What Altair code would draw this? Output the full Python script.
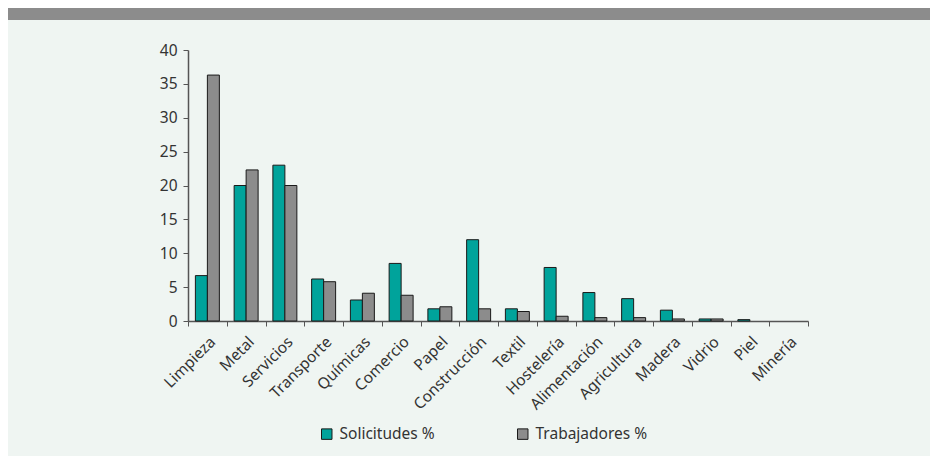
import altair as alt
import pandas as pd

categories = ["Limpieza", "Metal", "Servicios", "Transporte", "Químicas", "Comercio",
              "Papel", "Construcción", "Textil", "Hostelería", "Alimentación",
              "Agricultura", "Madera", "Vidrio", "Piel", "Minería"]
solicitudes = [6.7, 20.0, 23.0, 6.2, 3.1, 8.5, 1.8, 12.0, 1.8, 7.9, 4.2, 3.3, 1.6, 0.3, 0.2, 0.0]
trabajadores = [36.3, 22.3, 20.0, 5.8, 4.1, 3.8, 2.1, 1.8, 1.4, 0.7, 0.5, 0.5, 0.3, 0.3, 0.0, 0.0]
series = ["Solicitudes %", "Trabajadores %"]
colors = ["#00A39B", "#8C8C8C"]

rows = []
for c, s, t in zip(categories, solicitudes, trabajadores):
    rows.append({"cat": c, "serie": series[0], "v": s})
    rows.append({"cat": c, "serie": series[1], "v": t})
df = pd.DataFrame(rows)

FONT = "Noto Sans"

bars = alt.Chart(df).transform_filter("datum.v > 0").mark_bar(stroke="#1a1a1a", strokeWidth=1).encode(
    x=alt.X("cat:N", sort=categories, title=None,
            scale=alt.Scale(domain=categories, paddingInner=0, paddingOuter=0),
            axis=alt.Axis(labelAngle=-45, labelFont=FONT, labelFontSize=15.5,
                          labelColor="#333333", domainColor="#555555", domainWidth=1.5,
                          tickColor="#555555", tickSize=5, tickBand="extent",
                          labelPadding=8)),
    xOffset=alt.XOffset("serie:N", sort=series,
                        scale=alt.Scale(domain=series, paddingInner=0, paddingOuter=0.615)),
    y=alt.Y("v:Q", title=None,
            scale=alt.Scale(domain=[0, 40], nice=False),
            axis=alt.Axis(values=[0, 5, 10, 15, 20, 25, 30, 35, 40], grid=False,
                          labelFont=FONT, labelFontSize=15.5, labelColor="#333333",
                          domainColor="#555555", domainWidth=1.5,
                          tickColor="#555555", tickSize=5, labelPadding=6)),
    color=alt.Color("serie:N", sort=series,
                    scale=alt.Scale(domain=series, range=colors),
                    legend=alt.Legend(title=None, orient="none", legendX=131, legendY=376,
                                      direction="horizontal", symbolType="square",
                                      symbolSize=110, symbolStrokeColor="#1a1a1a",
                                      symbolStrokeWidth=1, labelFont=FONT, labelFontSize=15.5,
                                      labelColor="#333333", columnPadding=80, padding=0,
                                      labelOffset=5)),
)

band = alt.Chart(pd.DataFrame({"a": [0]})).mark_rect(color="#8C8C8C").encode(
    x=alt.value(-181), x2=alt.value(745), y=alt.value(-42), y2=alt.value(-30)
)

chart = alt.layer(band, bars).properties(
    width=620, height=271,
    background="#EFF5F2",
    padding={"left": 180, "top": 42, "right": 122, "bottom": 135},
    autosize=alt.AutoSizeParams(type="none"),
).configure_view(stroke=None)

chart.save("out.html", embed_options={"renderer": "svg", "actions": False})
